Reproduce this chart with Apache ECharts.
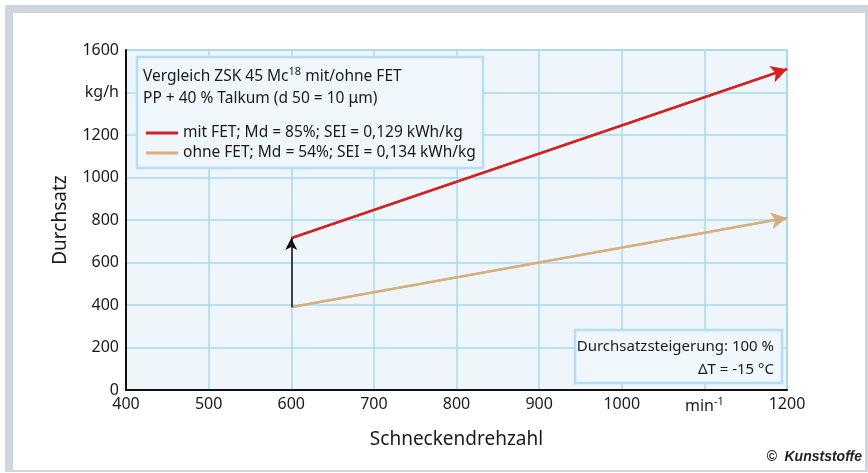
<!DOCTYPE html>
<html><head><meta charset="utf-8">
<script src="https://cdn.jsdelivr.net/npm/echarts@6/dist/echarts.min.js"></script>
<style>html,body{margin:0;padding:0;background:#fff}#c{width:868px;height:473px}</style>
</head><body><div id="c"></div>
<script>
// Data
var xTicks = [400, 500, 600, 700, 800, 900, 1000, 1100, 1200];
var yTicks = [0, 200, 400, 600, 800, 1000, 1200, 1400, 1600];
var seriesNames = ['mit FET; Md = 85%; SEI = 0,129 kWh/kg', 'ohne FET; Md = 54%; SEI = 0,134 kWh/kg'];
var drehzahl = [600, 1200];
var mitFET = [715, 1510];
var ohneFET = [390, 810];
var yUnitLabel = 'kg/h';
var xUnitLabel = 'min{sup|-1}';

var FONT = 'Noto Sans';
var TXT = '#1a1a1a';
var RED = '#d42222';
var TAN = '#d6b07c';

var chart = echarts.init(document.getElementById('c'), null, {renderer: 'canvas'});
function pairs(xs, ys) { return xs.map(function (x, i) { return [x, ys[i]]; }); }

var option = {
  animation: false,
  textStyle: {fontFamily: FONT, color: TXT},
  grid: {left: 126, right: 81, top: 50, bottom: 83, show: true, backgroundColor: '#eef6fc', borderColor: '#b2dcf2', borderWidth: 2},
  xAxis: {
    type: 'value', min: 400, max: 1200, interval: 100,
    name: 'Schneckendrehzahl', nameLocation: 'middle', nameGap: 40,
    nameTextStyle: {fontSize: 19, color: TXT, fontFamily: FONT},
    axisLine: {show: true, lineStyle: {color: '#111', width: 2}},
    axisTick: {show: false},
    splitLine: {show: true, lineStyle: {color: '#a9d8f0', width: 1.5}},
    axisLabel: {
      fontSize: 16, color: TXT, margin: 6,
      formatter: function (v) { return v === 1100 ? xUnitLabel : String(v); },
      rich: {sup: {fontSize: 11, verticalAlign: 'top', padding: [0, 0, 10, 0], color: TXT}}
    }
  },
  yAxis: {
    type: 'value', min: 0, max: 1600, interval: 200,
    name: 'Durchsatz', nameLocation: 'middle', nameGap: 56, nameRotate: 90,
    nameTextStyle: {fontSize: 19, color: TXT, fontFamily: FONT},
    axisLine: {show: true, lineStyle: {color: '#111', width: 2}},
    axisTick: {show: false},
    splitLine: {show: true, lineStyle: {color: '#a9d8f0', width: 1.5}},
    axisLabel: {
      fontSize: 16, color: TXT, margin: 7,
      formatter: function (v) { return v === 1400 ? yUnitLabel : String(v); }
    }
  },
  legend: {
    show: true, orient: 'vertical', left: 141, top: 120, itemGap: 4, z: 20,
    itemWidth: 32, itemHeight: 3, icon: 'rect',
    textStyle: {fontSize: 15.5, color: TXT, fontFamily: FONT},
    data: seriesNames
  },
  series: [
    {
      name: seriesNames[0], type: 'line', data: pairs(drehzahl, mitFET),
      showSymbol: false, color: RED, lineStyle: {color: RED, width: 2.5},
      markLine: {silent: true, symbol: ['none', 'arrow'], symbolSize: [13, 16], label: {show: false},
        lineStyle: {color: RED, width: 2.5, type: 'solid'},
        data: [[{coord: [drehzahl[0], mitFET[0]]}, {coord: [drehzahl[1], mitFET[1]]}]]}
    },
    {
      name: seriesNames[1], type: 'line', data: pairs(drehzahl, ohneFET),
      showSymbol: false, color: TAN, lineStyle: {color: TAN, width: 2.5},
      markLine: {silent: true, symbol: ['none', 'arrow'], symbolSize: [13, 16], label: {show: false},
        data: [
          [{coord: [drehzahl[0], ohneFET[0]]}, {coord: [drehzahl[1], ohneFET[1]]}],
          [{coord: [drehzahl[0], ohneFET[0]], lineStyle: {color: '#111', width: 1.5, type: 'solid'}},
           {coord: [drehzahl[0], mitFET[0]], lineStyle: {color: '#111', width: 1.5, type: 'solid'}, symbolSize: [9, 12]}]
        ],
        lineStyle: {color: TAN, width: 2.5, type: 'solid'}}
    }
  ],
  graphic: [
    {type: 'rect', z: -10, silent: true, shape: {x: 5, y: 5, width: 863, height: 467}, style: {fill: '#cfd6dd'}},
    {type: 'rect', z: -9, silent: true, shape: {x: 13, y: 13, width: 852, height: 457}, style: {fill: '#ffffff'}},
    {type: 'rect', z: 5, silent: true, shape: {x: 137, y: 57, width: 346, height: 111}, style: {fill: '#eff6fc', stroke: '#b7ddf2', lineWidth: 2.5}},
    {type: 'text', z: 6, silent: true, x: 143, y: 66, style: {
      text: 'Vergleich ZSK 45 Mc{sup|18} mit/ohne FET\nPP + 40 % Talkum (d 50 = 10 μm)',
      font: '15.5px "Noto Sans"', fill: TXT, lineHeight: 22,
      rich: {sup: {fontSize: 11, verticalAlign: 'top', padding: [0, 0, 8, 0], fill: TXT, fontFamily: FONT}}}},
    {type: 'rect', z: 5, silent: true, shape: {x: 575, y: 330, width: 207, height: 53}, style: {fill: '#eff6fc', stroke: '#b7ddf2', lineWidth: 2.5}},
    {type: 'text', z: 6, silent: true, x: 774, y: 335, style: {
      text: 'Durchsatzsteigerung: 100 %\nΔT = -15 °C', align: 'right',
      font: '15px "Noto Sans"', fill: TXT, lineHeight: 23}},
    {type: 'text', z: 6, silent: true, x: 862, y: 450, style: {
      text: '©  Kunststoffe', align: 'right', font: 'italic bold 14px "Liberation Sans"', fill: '#222'}}
  ]
};
chart.setOption(option);
</script>
</body></html>
